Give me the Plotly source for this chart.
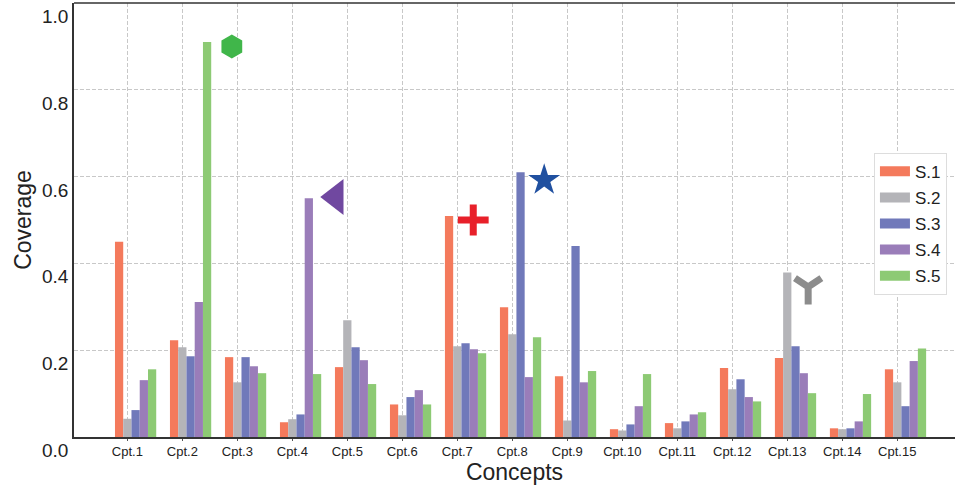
import plotly.graph_objects as go

# Concept labels and per-setting coverage values
concepts = [f"Cpt.{i}" for i in range(1, 16)]
series_names = ["S.1", "S.2", "S.3", "S.4", "S.5"]

s1 = [0.450, 0.223, 0.184, 0.034, 0.161, 0.075, 0.509, 0.299, 0.140, 0.018, 0.032, 0.159, 0.182, 0.020, 0.156]
s2 = [0.042, 0.207, 0.126, 0.041, 0.269, 0.050, 0.209, 0.237, 0.038, 0.015, 0.020, 0.110, 0.379, 0.018, 0.126]
s3 = [0.062, 0.186, 0.184, 0.052, 0.207, 0.092, 0.216, 0.610, 0.440, 0.029, 0.036, 0.133, 0.209, 0.020, 0.071]
s4 = [0.131, 0.311, 0.163, 0.550, 0.177, 0.108, 0.202, 0.138, 0.126, 0.071, 0.052, 0.092, 0.147, 0.036, 0.175]
s5 = [0.156, 0.910, 0.147, 0.145, 0.122, 0.075, 0.193, 0.230, 0.152, 0.145, 0.057, 0.082, 0.101, 0.099, 0.204]
series_values = [s1, s2, s3, s4, s5]

bar_colors = ["#F47A5C", "#B4B4B8", "#7079BA", "#9A7DB9", "#8DCA74"]

# Highlight markers placed beside the peak bars
hl_x = [2.90, 4.79, 7.29, 8.58, 13.38]
hl_y = [0.900, 0.553, 0.500, 0.592, 0.346]
hl_symbols = ["hexagon", "triangle-left", "cross-thin", "star", "y-down"]
hl_sizes = [24, 31, 22, 24, 22]
hl_colors = ["#40B64A", "#7048A0", "#E8202A", "#2050A0", "#8C8C8C"]

bar_width = 0.15
font_family = "Liberation Sans, Arial, sans-serif"
positions = list(range(1, len(concepts) + 1))

fig = go.Figure()

for k, (name, vals, col) in enumerate(zip(series_names, series_values, bar_colors)):
    offset = (k - 1) * bar_width
    fig.add_trace(go.Bar(
        x=[p + offset for p in positions],
        y=vals,
        width=bar_width,
        marker=dict(color=col, line=dict(width=0)),
        name=name,
        legendgroup=name,
        showlegend=False,
    ))
    # wide legend swatch
    fig.add_trace(go.Scatter(
        x=[None], y=[None], mode="lines",
        line=dict(color=col, width=10),
        name=name, legendgroup=name, showlegend=True,
    ))

for x, y, sym, size, col in zip(hl_x, hl_y, hl_symbols, hl_sizes, hl_colors):
    thin = sym in ("cross-thin", "y-down")
    fig.add_trace(go.Scatter(
        x=[x], y=[y], mode="markers", showlegend=False, hoverinfo="skip",
        marker=dict(
            symbol=sym,
            size=size,
            color=col,
            line=dict(color=col, width=7 if thin else 0),
        ),
    ))

fig.update_layout(
    width=955, height=488,
    margin=dict(l=74, r=0, t=3, b=51),
    plot_bgcolor="white", paper_bgcolor="white",
    barmode="overlay",
    font=dict(family=font_family, color="#222222"),
    legend=dict(
        x=0.908, y=0.655, xanchor="left", yanchor="top",
        bgcolor="white", bordercolor="#DDDDDD", borderwidth=1,
        font=dict(size=17, color="#222222"),
        itemwidth=30, tracegroupgap=1,
    ),
)

fig.update_xaxes(
    range=[0.03, 16.05],
    tickvals=positions, ticktext=concepts,
    tickfont=dict(size=13, color="#222222"),
    ticks="outside", ticklen=2, tickcolor="#555555",
    showline=True, linecolor="#333333", linewidth=1.5, mirror=False,
    showgrid=True, gridcolor="#C8C8C8", gridwidth=1, griddash="4px,2px",
    zeroline=False,
    title=dict(text="Concepts", font=dict(size=23, color="#222222"), standoff=5),
)

fig.update_yaxes(
    range=[0, 1.0],
    tickvals=[0, 0.2, 0.4, 0.6, 0.8, 1.0],
    ticktext=["0.0", "0.2", "0.4", "0.6", "0.8", "1.0"],
    tickfont=dict(size=19, color="#222222"),
    ticklabelposition="outside bottom",
    ticks="", showline=True, linecolor="#333333", linewidth=1.5,
    showgrid=True, gridcolor="#C8C8C8", gridwidth=1, griddash="4px,2px",
    zeroline=False,
    title=dict(text="Coverage", font=dict(size=23, color="#222222"), standoff=4),
)

# top frame line
fig.add_shape(type="line", xref="paper", yref="paper", x0=0, x1=1, y0=1, y1=1,
              line=dict(color="#333333", width=1.5))

fig.write_html("out.html")
